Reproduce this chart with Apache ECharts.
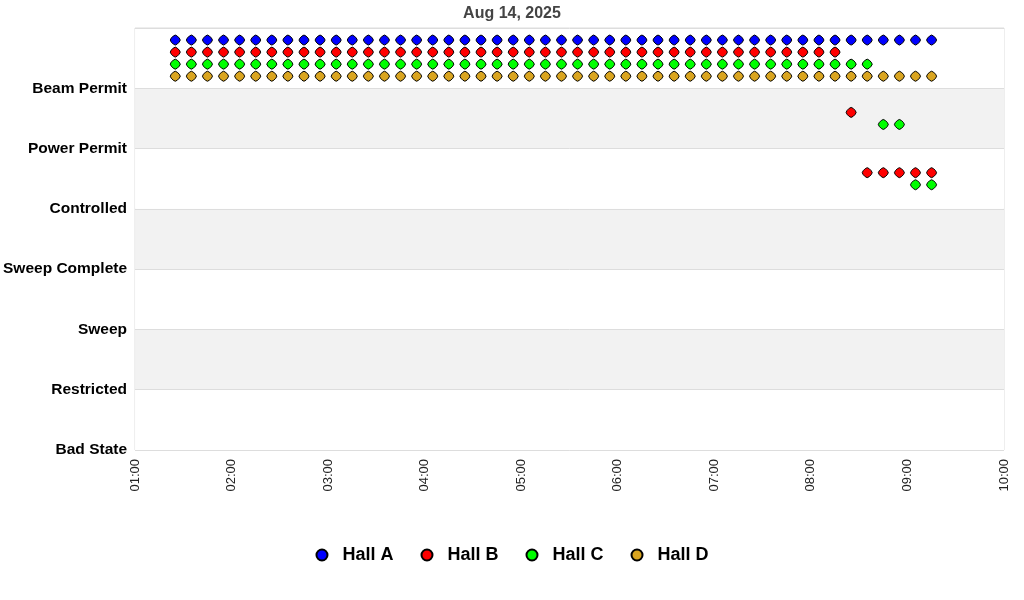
<!DOCTYPE html>
<html>
<head>
<meta charset="utf-8">
<script src="https://cdn.jsdelivr.net/npm/echarts@6/dist/echarts.min.js"></script>
<style>html,body{margin:0;padding:0;background:#fff}#c{width:1024px;height:600px}</style>
</head>
<body>
<div id="c"></div>
<script>
var title = "Aug 14, 2025";
var stateLabels = ["Bad State", "Restricted", "Sweep", "Sweep Complete", "Controlled", "Power Permit", "Beam Permit"];
var xTickLabels = ["01:00","02:00","03:00","04:00","05:00","06:00","07:00","08:00","09:00","10:00"];
var times = ["01:25","01:35","01:45","01:55","02:05","02:15","02:25","02:35","02:45","02:55",
  "03:05","03:15","03:25","03:35","03:45","03:55","04:05","04:15","04:25","04:35",
  "04:45","04:55","05:05","05:15","05:25","05:35","05:45","05:55","06:05","06:15",
  "06:25","06:35","06:45","06:55","07:05","07:15","07:25","07:35","07:45","07:55",
  "08:05","08:15","08:25","08:35","08:45","08:55","09:05","09:15"];
var BP = "Beam Permit", PP = "Power Permit", CT = "Controlled";
var hallA = [BP,BP,BP,BP,BP,BP,BP,BP,BP,BP, BP,BP,BP,BP,BP,BP,BP,BP,BP,BP, BP,BP,BP,BP,BP,BP,BP,BP,BP,BP, BP,BP,BP,BP,BP,BP,BP,BP,BP,BP, BP,BP,BP,BP,BP,BP,BP,BP];
var hallB = [BP,BP,BP,BP,BP,BP,BP,BP,BP,BP, BP,BP,BP,BP,BP,BP,BP,BP,BP,BP, BP,BP,BP,BP,BP,BP,BP,BP,BP,BP, BP,BP,BP,BP,BP,BP,BP,BP,BP,BP, BP,BP,PP,CT,CT,CT,CT,CT];
var hallC = [BP,BP,BP,BP,BP,BP,BP,BP,BP,BP, BP,BP,BP,BP,BP,BP,BP,BP,BP,BP, BP,BP,BP,BP,BP,BP,BP,BP,BP,BP, BP,BP,BP,BP,BP,BP,BP,BP,BP,BP, BP,BP,BP,BP,PP,PP,CT,CT];
var hallD = [BP,BP,BP,BP,BP,BP,BP,BP,BP,BP, BP,BP,BP,BP,BP,BP,BP,BP,BP,BP, BP,BP,BP,BP,BP,BP,BP,BP,BP,BP, BP,BP,BP,BP,BP,BP,BP,BP,BP,BP, BP,BP,BP,BP,BP,BP,BP,BP];
var hallNames = ["Hall A", "Hall B", "Hall C", "Hall D"];
var hallColors = ["#0000ff", "#ff0000", "#00ff00", "#daa520"];
var hallOffsets = [0.8, 0.6, 0.4, 0.2];

var markerPath = "path://M5 0 L7 1 L9 3 L10 5 L9 7 L7 9 L5 10 L3 9 L1 7 L0 5 L1 3 L3 1 Z";

function toMin(t){ var p = t.split(":"); return (+p[0]) * 60 + (+p[1]); }
function build(states, off){
  return states.map(function(s, i){ return [toMin(times[i]), stateLabels.indexOf(s) + off]; });
}
var hallStates = [hallA, hallB, hallC, hallD];
var series = hallNames.map(function(n, k){
  return {
    name: n, type: "scatter", symbol: markerPath, symbolSize: 10,
    itemStyle: { color: hallColors[k], borderColor: "#000", borderWidth: 1, opacity: 1 },
    data: build(hallStates[k], hallOffsets[k])
  };
});

var chart = echarts.init(document.getElementById("c"));
chart.setOption({
  animation: false,
  title: { text: title, left: "center", top: 1, textStyle: { fontFamily: "Liberation Sans, Arial", fontSize: 16, fontWeight: "bold", color: "#444" } },
  grid: { left: 135, right: 20, top: 28, bottom: 150, show: true, borderColor: "#ddd", borderWidth: 1, backgroundColor: "transparent" },
  xAxis: {
    type: "value", min: toMin(xTickLabels[0]), max: toMin(xTickLabels[xTickLabels.length-1]), interval: 60,
    axisLine: { show: false }, axisTick: { show: false }, splitLine: { show: false },
    axisLabel: {
      rotate: 90, margin: 9, color: "#222", fontFamily: "Liberation Sans, Arial", fontSize: 13,
      formatter: function(v){ return xTickLabels[Math.round((v - toMin(xTickLabels[0])) / 60)] || ""; }
    }
  },
  yAxis: {
    type: "value", min: 0, max: 7, interval: 1,
    axisLine: { show: false }, axisTick: { show: false },
    splitLine: { show: true, lineStyle: { color: "#ddd", width: 1 } },
    splitArea: { show: true, areaStyle: { color: ["#ffffff", "#f2f2f2"] } },
    axisLabel: {
      margin: 8, color: "#000", fontWeight: "bold", fontFamily: "Liberation Sans, Arial", fontSize: 15.5,
      formatter: function(v){ return stateLabels[v] || ""; }
    }
  },
  legend: {
    bottom: 31, left: "center", icon: "circle", itemWidth: 11, itemHeight: 11, itemGap: 27,
    padding: [5, 5, 5, 11],
    textStyle: { fontFamily: "Liberation Sans, Arial", fontSize: 18, fontWeight: "bold", color: "#000", padding: [0,0,0,10] },
    data: hallNames
  },
  series: series
});
</script>
</body>
</html>
